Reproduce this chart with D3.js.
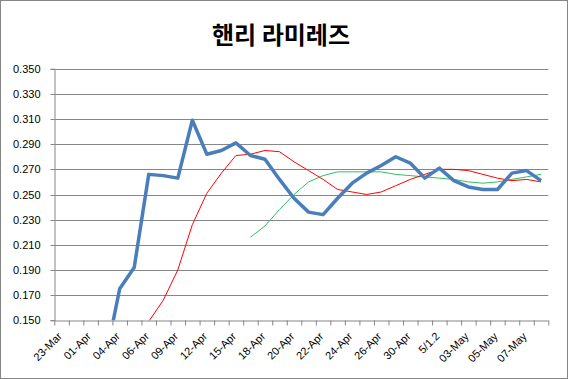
<!DOCTYPE html>
<html>
<head>
<meta charset="utf-8">
<script src="https://cdn.jsdelivr.net/npm/d3@7"></script>
<style>
  html, body { margin: 0; padding: 0; background: #fff; }
  svg { display: block; }
  .axis text { font-family: "Liberation Sans", Arial, sans-serif; font-size: 11px; fill: #000; }
</style>
</head>
<body>
<svg id="chart" width="568" height="379"></svg>
<script>
const title = "핸리 라미레즈";
const categories = ["23-Mar","31-Mar","01-Apr","02-Apr","04-Apr","05-Apr","06-Apr","08-Apr","09-Apr","10-Apr",
  "12-Apr","13-Apr","15-Apr","17-Apr","18-Apr","19-Apr","20-Apr","21-Apr","22-Apr","23-Apr",
  "24-Apr","25-Apr","26-Apr","28-Apr","30-Apr","5/1.1","5/1.2","02-May","03-May","04-May",
  "05-May","06-May","07-May","08-May"];
const labelledCategories = ["23-Mar","01-Apr","04-Apr","06-Apr","09-Apr","12-Apr","15-Apr","18-Apr","20-Apr",
  "22-Apr","24-Apr","26-Apr","30-Apr","5/1.2","03-May","05-May","07-May"];
const yTicks = [0.150,0.170,0.190,0.210,0.230,0.250,0.270,0.290,0.310,0.330,0.350];

const avgDaily = [null,null,null,0.118,0.175,0.192,0.266,0.265,0.263,0.309,
  0.282,0.285,0.291,0.281,0.278,0.262,0.247,0.236,0.234,0.247,
  0.259,0.267,0.273,0.280,0.275,0.263,0.271,0.261,0.256,0.254,
  0.254,0.267,0.269,0.261];
const avgRed = [null,null,null,null,null,null,0.149,0.166,0.190,0.226,
  0.251,0.267,0.281,0.282,0.285,0.284,0.276,0.269,0.262,0.254,
  0.252,0.250,0.252,0.257,0.262,0.266,0.270,0.270,0.269,0.266,
  0.263,0.261,0.262,0.260];
const avgGreen = [null,null,null,null,null,null,null,null,null,null,
  null,null,null,0.216,0.225,0.238,0.250,0.260,0.265,0.268,
  0.268,0.268,0.268,0.266,0.265,0.264,0.263,0.262,0.260,0.259,
  0.260,0.262,0.264,0.266];

(function(){
const svg = d3.select("#chart");
const W = 568, H = 379;
const pL = 54.3, pR = 548.3, pT = 68.7, pB = 320.3;

svg.append("rect").attr("x",0.5).attr("y",0.5).attr("width",W-1).attr("height",H-1)
  .attr("fill","#fff").attr("stroke","#868686");

svg.append("text").attr("x",281).attr("y",44).attr("text-anchor","middle")
  .style("font-family","'Noto Sans CJK KR', sans-serif").style("font-weight","bold")
  .style("font-size","24px").text(title);

const x = d3.scaleBand().domain(categories).range([pL,pR]).padding(0);
const xi = d3.scaleLinear().domain([0,categories.length]).range([pL,pR]);
const y = d3.scaleLinear().domain([0.150,0.350]).range([pB,pT]);

// gridlines
svg.append("g").selectAll("line").data(yTicks.slice(1)).join("line")
  .attr("x1",pL).attr("x2",pR)
  .attr("y1",d=>Math.round(y(d))+0.5).attr("y2",d=>Math.round(y(d))+0.5)
  .attr("stroke","#868686").attr("stroke-width",1);

// y axis
const yAxis = svg.append("g").attr("class","axis").attr("transform",`translate(${Math.round(pL)+0.5},0)`)
  .call(d3.axisLeft(y).tickValues(yTicks).tickFormat(d3.format(".3f")).tickSize(4).tickPadding(10));
yAxis.selectAll("line").attr("stroke","#868686");
yAxis.select(".domain").attr("stroke","#868686");
yAxis.selectAll(".tick").attr("transform",d=>`translate(0,${Math.round(y(d))+0.5})`);

// x axis ticks
const xTickAxis = svg.append("g").attr("transform",`translate(0,${Math.round(pB)+0.5})`)
  .call(d3.axisBottom(xi).tickValues(d3.range(categories.length+1)).tickFormat("").tickSize(5).tickSizeOuter(0));
xTickAxis.selectAll("line").attr("stroke","#868686");
xTickAxis.select(".domain").attr("stroke","#868686");

// x labels
const xLab = svg.append("g").attr("class","axis").attr("transform",`translate(0,${Math.round(pB)})`)
  .call(d3.axisBottom(x).tickValues(labelledCategories).tickSize(0).tickSizeOuter(0));
xLab.select(".domain").remove();
xLab.selectAll("text").attr("text-anchor","end").attr("dy",0).attr("y",0)
  .attr("transform","translate(1,17) rotate(-45)");

// clip
svg.append("clipPath").attr("id","clip").append("rect")
  .attr("x",pL).attr("y",pT-5).attr("width",pR-pL+5).attr("height",pB-pT+5);

const line = d3.line()
  .defined(d=>d.v!=null)
  .x(d=>x(d.c)+x.bandwidth()/2)
  .y(d=>y(d.v));
const mk = arr => categories.map((c,i)=>({c, v: arr[i]}));

const g = svg.append("g").attr("clip-path","url(#clip)");
g.append("path").datum(mk(avgGreen)).attr("d",line).attr("fill","none").attr("stroke","#2fbf62").attr("stroke-width",1);
g.append("path").datum(mk(avgRed)).attr("d",line).attr("fill","none").attr("stroke","#ff0000").attr("stroke-width",1);
g.append("path").datum(mk(avgDaily)).attr("d",line).attr("fill","none").attr("stroke","#4a7ebb").attr("stroke-width",3.5).attr("stroke-linejoin","round");
})();
</script>
</body>
</html>
